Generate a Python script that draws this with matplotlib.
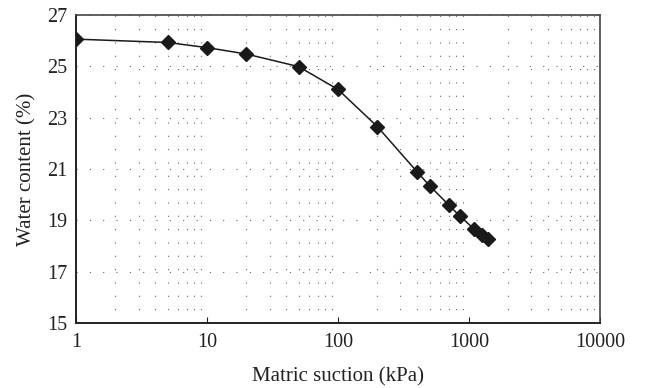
import numpy as np
import matplotlib
matplotlib.use('Agg')
import matplotlib.pyplot as plt
from matplotlib.ticker import LogLocator, NullFormatter

# 데이터
suction = [1, 5, 10, 20, 50, 100, 200, 400, 500, 700, 850, 1100, 1250, 1400]
water = [26.06, 25.93, 25.73, 25.48, 24.99, 24.1, 22.65, 20.9, 20.35, 19.6, 19.17, 18.65, 18.43, 18.26]
y_ticks = [15, 17, 19, 21, 23, 25, 27]
x_ticks = [1, 10, 100, 1000, 10000]
x_labels = ['1', '10', '100', '1000', '10000']

plt.rcParams['font.family'] = ['Liberation Serif', 'DejaVu Serif']

fig = plt.figure(figsize=(6.48, 3.88), dpi=100)
ax = fig.add_axes([0.1173, 0.1675, 0.8086, 0.7938])

ax.plot(suction, water, color='#1a1a1a', lw=1.1, marker='D', ms=7,
        mfc='#1a1a1a', mec='#1a1a1a', zorder=3)

ax.set_xscale('log')
ax.set_xlim(1, 10000)
ax.set_ylim(15, 27)
ax.set_xticks(x_ticks)
ax.set_xticklabels(x_labels)
ax.xaxis.set_minor_locator(LogLocator(base=10, subs=np.arange(2, 10)))
ax.xaxis.set_minor_formatter(NullFormatter())
ax.set_yticks(y_ticks)

# 점선 격자
ax.grid(which='minor', axis='x', color='#666666', lw=0.8, linestyle=(0, (1, 11)))
ax.grid(which='major', axis='y', color='#666666', lw=0.8, linestyle=(0, (1, 11)))

ax.tick_params(axis='both', which='both', direction='in', labelsize=14.5,
               colors='#222222', width=0.8)
ax.tick_params(axis='x', which='major', length=4, pad=7)
ax.tick_params(axis='x', which='minor', length=0)
ax.tick_params(axis='y', which='both', length=0, pad=6, right=False)
for side in ['left', 'bottom']:
    ax.spines[side].set_linewidth(1.4)
    ax.spines[side].set_color('#222222')
for side in ['top', 'right']:
    ax.spines[side].set_linewidth(1.2)
    ax.spines[side].set_color('#444444')

ax.set_xlabel('Matric suction (kPa)', fontsize=15, labelpad=11, color='#222222')
ax.set_ylabel('Water content (%)', fontsize=15, labelpad=8, color='#222222')

plt.savefig('out.png', dpi=100)
